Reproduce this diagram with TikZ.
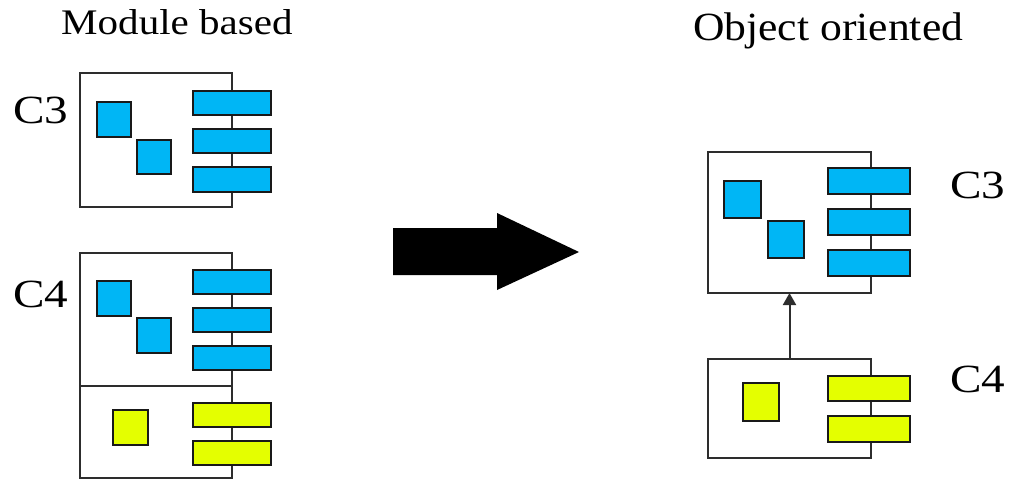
\documentclass[tikz,border=0pt]{standalone}
\usepackage{fontspec}
\setmainfont{Liberation Serif}
\usetikzlibrary{arrows.meta}
\definecolor{partblue}{RGB}{0,182,245}
\definecolor{partyellow}{RGB}{228,255,0}
\definecolor{edge}{RGB}{45,45,45}
\tikzset{
  compbox/.style={draw=edge, line width=2pt, fill=white, inner sep=0pt, outer sep=0pt, anchor=north west},
  part/.style={draw=black!90, line width=1.5pt, fill=#1, inner sep=0pt, outer sep=0pt, anchor=north west},
  title/.style={anchor=base west, inner sep=0pt},
  cname/.style={font=\fontsize{40}{40}\selectfont, xscale=1.18, anchor=base west, inner sep=0pt},
}
\begin{document}
\begin{tikzpicture}[x=1pt, y=-1pt]
\useasboundingbox (0,0) rectangle (1010,480);

% titles
\node[title, font=\fontsize{36}{36}\selectfont, xscale=1.14] (tmod) at (61,34) {Module based};
\node[title, font=\fontsize{40}{40}\selectfont, xscale=1.09] (tobj) at (693,40) {Object oriented};

% ---- module based: C3 ----
\node[cname] (lc3) at (13,123) {C3};
\node[compbox, minimum width=152pt, minimum height=134pt] (m3) at (80,73) {};
\node[part=partblue, minimum width=34pt, minimum height=35pt] (m3s1) at (97,102) {};
\node[part=partblue, minimum width=34pt, minimum height=34pt] (m3s2) at (137,140) {};
\node[part=partblue, minimum width=78pt, minimum height=24pt] (m3b1) at (193,91) {};
\node[part=partblue, minimum width=78pt, minimum height=24pt] (m3b2) at (193,129) {};
\node[part=partblue, minimum width=78pt, minimum height=25pt] (m3b3) at (193,167) {};

% ---- module based: C4 (copy of C3 plus its own part) ----
\node[cname] (lc4) at (13,307) {C4};
\node[compbox, minimum width=152pt, minimum height=225pt] (m4) at (80,253) {};
\coordinate (cut) at (80,386);
\draw[draw=edge, line width=2pt] (cut) -- (cut -| m4.east);
\node[part=partblue, minimum width=34pt, minimum height=35pt] (m4s1) at (97,281) {};
\node[part=partblue, minimum width=34pt, minimum height=35pt] (m4s2) at (137,318) {};
\node[part=partblue, minimum width=78pt, minimum height=24pt] (m4b1) at (193,270) {};
\node[part=partblue, minimum width=78pt, minimum height=24pt] (m4b2) at (193,308) {};
\node[part=partblue, minimum width=78pt, minimum height=24pt] (m4b3) at (193,346) {};
\node[part=partyellow, minimum width=35pt, minimum height=35pt] (m4y1) at (113,410) {};
\node[part=partyellow, minimum width=78pt, minimum height=24pt] (m4y2) at (193,403) {};
\node[part=partyellow, minimum width=78pt, minimum height=24pt] (m4y3) at (193,441) {};

% ---- transition arrow ----
\fill[black] (393,228) -- (497,228) -- (497,213) -- (579,252) -- (497,290)
  -- (497,275) -- (393,275) -- cycle;

% ---- object oriented: C3 ----
\node[cname] (rc3) at (950,198) {C3};
\node[compbox, minimum width=163pt, minimum height=141pt] (o3) at (708,152) {};
\node[part=partblue, minimum width=37pt, minimum height=37pt] (o3s1) at (724,181) {};
\node[part=partblue, minimum width=36pt, minimum height=37pt] (o3s2) at (768,221) {};
\node[part=partblue, minimum width=82pt, minimum height=26pt] (o3b1) at (828,168) {};
\node[part=partblue, minimum width=82pt, minimum height=26pt] (o3b2) at (828,209) {};
\node[part=partblue, minimum width=82pt, minimum height=26pt] (o3b3) at (828,250) {};

% ---- object oriented: C4 inherits from C3 ----
\node[cname] (rc4) at (950,392) {C4};
\node[compbox, minimum width=163pt, minimum height=99pt] (o4) at (708,359) {};
\node[part=partyellow, minimum width=36pt, minimum height=38pt] (o4y1) at (743,383) {};
\node[part=partyellow, minimum width=82pt, minimum height=25pt] (o4y2) at (828,376) {};
\node[part=partyellow, minimum width=82pt, minimum height=26pt] (o4y3) at (828,416) {};

\draw[draw=edge, line width=2pt, -{Triangle[width=13pt, length=12pt]}] (o4.north) -- (o3.south);
\end{tikzpicture}
\end{document}
